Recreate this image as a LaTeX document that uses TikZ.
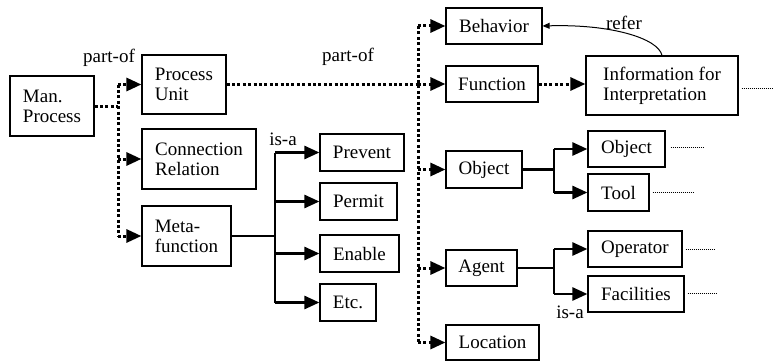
\documentclass[tikz,border=0pt]{standalone}
\usepackage{fontspec}
\setmainfont{Liberation Serif}
\newfontfamily\tmsfont{Liberation Serif}
\usetikzlibrary{arrows.meta,calc}
\begin{document}
\begin{tikzpicture}[x=1pt,y=-1pt,
  box/.style={draw,line width=1.2pt,align=left,inner sep=0pt,font=\tmsfont\fontsize{19}{20}\selectfont},
  lbl/.style={inner sep=0pt,font=\tmsfont\fontsize{19}{20}\selectfont},
  dotline/.style={line width=3pt,dash pattern=on 3pt off 2.4pt},
  dotarrow/.style={dotline,-{Triangle[length=15pt,width=13pt]}},
  solidline/.style={line width=2.6pt},
  solidarrow/.style={solidline,-{Triangle[length=15pt,width=13pt]}},
  thindots/.style={line width=0.9pt,dash pattern=on 1pt off 1pt},
]
\useasboundingbox (0,0) rectangle (773,361);
% boxes
\node[box,minimum width=84pt,minimum height=60pt] (mp) at (52,106) {Man.\\Process};
\node[box,minimum width=84pt,minimum height=59pt] (pu) at (184,84.5) {Process\\Unit};
\node[box,minimum width=114pt,minimum height=60pt] (cr) at (199,159) {Connection\\Relation};
\node[box,minimum width=89pt,minimum height=60pt] (mf) at (186.5,236) {Meta-\\function};
\node[box,minimum width=84pt,minimum height=37pt] (pv) at (362,152.5) {Prevent};
\node[box,minimum width=77pt,minimum height=37pt] (pm) at (358.5,201.5) {Permit};
\node[box,minimum width=79pt,minimum height=37pt] (en) at (359.5,253.5) {Enable};
\node[box,minimum width=56pt,minimum height=37pt] (et) at (348,302.5) {Etc.};
\node[box,minimum width=96pt,minimum height=36pt] (bh) at (494,26) {Behavior};
\node[box,minimum width=92pt,minimum height=36pt] (fn) at (492,84) {Function};
\node[box,minimum width=152pt,minimum height=59pt] (info) at (662,85.5) {Information for\\Interpretation};
\node[box,minimum width=76pt,minimum height=37pt] (obj) at (484,169.5) {Object};
\node[box,minimum width=77pt,minimum height=36pt] (obj2) at (626.5,149) {Object};
\node[box,minimum width=61pt,minimum height=37pt] (tool) at (618.5,192.5) {Tool};
\node[box,minimum width=71pt,minimum height=36pt] (ag) at (481.5,268) {Agent};
\node[box,minimum width=94pt,minimum height=36pt] (op) at (635,249) {Operator};
\node[box,minimum width=96pt,minimum height=36pt] (fa) at (636,294) {Facilities};
\node[box,minimum width=93pt,minimum height=35pt] (loc) at (492.5,342.5) {Location};
% labels
\node[lbl] (l1) at (109,58) {part-of};
\node[lbl] (l2) at (348,57) {part-of};
\node[lbl] (l3) at (283,139) {is-a};
\node[lbl] (l4) at (570,312) {is-a};
\node[lbl] (l5) at (624,23) {refer};
% spine coordinates
\coordinate (s1) at (118,0);
\coordinate (s2) at (418,0);
\coordinate (s3) at (275,0);
\coordinate (s4) at (554,0);
% left dotted tree
\draw[dotline] (mp.east) -- (mp.east -| s1);
\draw[dotline] (s1 |- pu.west) -- (s1 |- mf.west);
\draw[dotarrow] (s1 |- pu.west) -- (pu.west);
\draw[dotarrow] (s1 |- cr.west) -- (cr.west);
\draw[dotarrow] (s1 |- mf.west) -- (mf.west);
% big dotted tree
\draw[dotline] (pu.east) -- (pu.east -| s2);
\draw[dotline] (s2 |- bh.west) -- (s2 |- loc.west);
\draw[dotarrow] (s2 |- bh.west) -- (bh.west);
\draw[dotarrow] (s2 |- fn.west) -- (fn.west);
\draw[dotarrow] (s2 |- obj.west) -- (obj.west);
\draw[dotarrow] (s2 |- ag.west) -- (ag.west);
\draw[dotarrow] (s2 |- loc.west) -- (loc.west);
\draw[dotarrow] (fn.east) -- (fn.east -| info.west);
% is-a tree from meta-function
\draw[solidline] (mf.east) -- (mf.east -| s3);
\draw[solidline] (s3 |- pv.west) -- (s3 |- et.west);
\draw[solidarrow] (s3 |- pv.west) -- (pv.west);
\draw[solidarrow] (s3 |- pm.west) -- (pm.west);
\draw[solidarrow] (s3 |- en.west) -- (en.west);
\draw[solidarrow] (s3 |- et.west) -- (et.west);
% object tree
\draw[solidline] (obj.east) -- (obj.east -| s4);
\draw[solidline] (s4 |- obj2.west) -- (s4 |- tool.west);
\draw[solidarrow] (s4 |- obj2.west) -- (obj2.west);
\draw[solidarrow] (s4 |- tool.west) -- (tool.west);
% agent tree
\draw[solidline] (ag.east) -- (ag.east -| s4);
\draw[solidline] (s4 |- op.west) -- (s4 |- fa.west);
\draw[solidarrow] (s4 |- op.west) -- (op.west);
\draw[solidarrow] (s4 |- fa.west) -- (fa.west);
% refer
\draw[line width=1pt,-{Triangle[length=7pt,width=6pt]}] (info.north) .. controls (658,38) and (610,24) .. (bh.east);
% trailing thin dots
\coordinate (e1) at (773,88);
\coordinate (e2) at (704,147);
\coordinate (e3) at (693,192);
\coordinate (e4) at (715,249);
\coordinate (e5) at (717,293);
\draw[thindots] ([xshift=3pt]info.east |- e1) -- (e1);
\draw[thindots] ([xshift=5pt]obj2.east |- e2) -- (e2);
\draw[thindots] ([xshift=3pt]tool.east |- e3) -- (e3);
\draw[thindots] ([xshift=3pt]op.east |- e4) -- (e4);
\draw[thindots] ([xshift=3pt]fa.east |- e5) -- (e5);
\end{tikzpicture}
\end{document}
